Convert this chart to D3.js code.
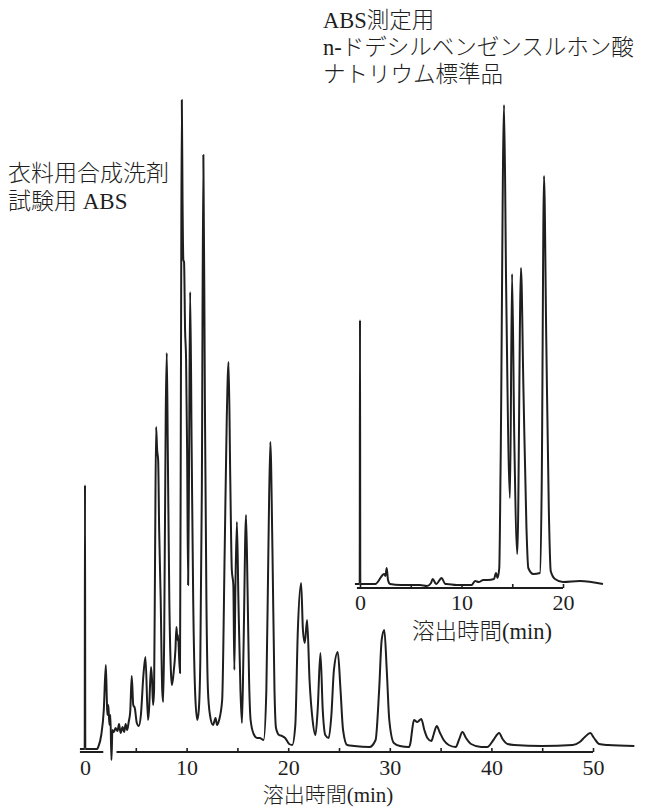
<!DOCTYPE html>
<html><head><meta charset="utf-8">
<script src="https://cdn.jsdelivr.net/npm/d3@7"></script>
<style>
html,body{margin:0;padding:0;background:#fff;}
svg{display:block;}
text{fill:#1e1e1e;font-family:"Liberation Serif","Noto Sans CJK JP",serif;}
.cjk{font-weight:300;}
</style></head>
<body>
<svg id="chart" width="650" height="809"></svg>
<script>
// ---- Main chromatogram (衣料用合成洗剤 試験用 ABS) ----
const mainTime = [-0.5,-0.03,0,0.03,0.6,1.2,1.3,1.6,1.85,2.05,2.15,2.2,2.3,2.4,2.5,2.6,2.7,2.85,3.0,3.2,3.35,3.5,3.7,3.85,4.0,4.15,4.3,4.45,4.6,4.75,4.9,5.1,5.3,5.5,5.75,5.95,6.2,6.3,6.5,6.6,6.7,6.8,6.9,7.0,7.1,7.2,7.3,7.45,7.6,7.7,7.8,7.95,8.05,8.15,8.3,8.45,8.55,8.7,8.9,9.0,9.1,9.15,9.35,9.45,9.53,9.6,9.68,9.75,9.85,9.95,10.05,10.15,10.25,10.35,10.5,10.65,10.85,11.05,11.2,11.35,11.5,11.65,11.8,11.95,12.1,12.3,12.6,12.85,13.0,13.2,13.5,13.75,13.95,14.13,14.3,14.45,14.6,14.7,14.8,14.95,15.1,15.3,15.45,15.6,15.85,16.0,16.15,16.3,16.6,16.93,17.2,17.58,17.85,18.05,18.24,18.45,18.65,18.8,19.1,19.4,19.7,20.1,20.4,20.7,20.95,21.27,21.45,21.63,21.86,22.1,22.4,22.68,22.9,23.17,23.4,23.65,23.99,24.25,24.5,24.88,25.15,25.4,25.8,26.5,28.0,28.6,28.95,29.2,29.46,29.7,29.95,30.4,31.0,31.88,32.05,32.2,32.38,32.7,33.1,33.4,33.7,34.09,34.3,34.62,34.9,35.3,35.8,36.49,36.8,37.15,37.5,38.0,39.0,39.6,40.2,40.76,41.1,41.6,42.24,45.0,48.0,48.7,49.2,49.73,50.1,50.6,51.45,54.07];
const mainSignal = [1,1,265,1,1,1,3,15,40,85,50,35,45,25,35,-10,20,18,22,19,26,17,23,18,26,20,28,38,74,45,42,27,24,35,75,93,30,40,83,70,45,60,200,323,300,290,220,150,60,48,120,340,397,300,150,80,65,75,100,123,110,115,77,400,650,550,490,488,420,390,300,165,300,458,300,150,55,30,40,90,260,595,350,150,60,35,25,32,25,30,50,200,330,388,270,180,165,80,160,228,150,60,27,100,235,160,70,30,16,12,12,10,60,200,308,200,60,22,15,14,12,6,5,25,120,167,120,107,130,70,30,15,40,97,40,15,12,35,80,98,60,20,5,4,3,10,60,110,120,80,30,7,4,3,8,20,30,28,31,20,12,9,15,24,18,10,5,3,10,18,12,6,3,3,10,17,11,6,5,4,5,8,13,17,12,6,5,4];
const mainLabelTicks = [0,10,20,30,40,50];
const mainMinorTicks = [5,10,15,20,25,30,35,40,45,50];
const mainAxisSegments = [[-0.5,1.8],[3.1,50]];

// ---- Inset chromatogram (ABS測定用 n-ドデシルベンゼンスルホン酸ナトリウム標準品) ----
const insetTime = [-0.5,-0.03,0,0.03,1.5,2.39,2.5,2.63,2.76,2.96,4.0,5.5,5.91,6.6,7.0,7.16,7.5,8.05,8.4,8.54,9.5,10.5,11.0,11.33,11.7,12.15,12.6,13.2,13.4,13.55,13.72,13.85,14.19,14.4,14.78,14.98,15.2,15.5,15.86,16.1,16.4,16.58,17.07,17.73,17.9,18.13,18.35,18.6,18.79,19.21,20.0,21.67,23.94];
const insetSignal = [4,4,268,4,4,14,12,20,8,4,3,3,3,2,5,9,4,10,4,4,3,3,3,7,6,8,8,9,15,10,20,120,483,300,90,314,150,34,320,200,60,20,14,15,100,412,250,80,17,9,6,7,4];
const insetLabelTicks = [0,10,20];
const insetMinorTicks = [0,5,10,15,20];
const insetAxisSegments = [[-0.3,20]];

// ---- Texts ----
const axisTitle = "溶出時間(min)";
const mainSampleLabel = ["衣料用合成洗剤","試験用 ABS"];
const insetSampleLabel = ["ABS測定用","n-ドデシルベンゼンスルホン酸","ナトリウム標準品"];

const svg = d3.select("#chart");
const ink = "#1e1e1e";

function drawChrom(cfg){
  const x = d3.scaleLinear().domain(cfg.xDomain).range(cfg.xRange);
  const y = d3.scaleLinear().domain(cfg.yDomain).range(cfg.yRange);
  const g = svg.append("g");
  const pts = cfg.time.map((t,i)=>[t,cfg.signal[i]]);
  g.selectAll("line.seg").data(cfg.segments).join("line")
    .attr("x1",d=>x(d[0])).attr("x2",d=>x(d[1]))
    .attr("y1",cfg.axisY).attr("y2",cfg.axisY)
    .attr("stroke",ink).attr("stroke-width",2);
  const tickAxis = d3.axisBottom(x).tickValues(cfg.minor).tickSizeInner(-4).tickSizeOuter(0).tickFormat("");
  const ta = g.append("g").attr("transform",`translate(0,${cfg.axisY})`).call(tickAxis);
  ta.select(".domain").remove();
  ta.selectAll("line").attr("stroke",ink).attr("stroke-width",1.6);
  const labAxis = d3.axisBottom(x).tickValues(cfg.labels).tickSize(0).tickPadding(cfg.pad).tickFormat(d3.format("d"));
  const la = g.append("g").attr("transform",`translate(0,${cfg.axisY})`).call(labAxis);
  la.select(".domain").remove();
  la.selectAll("text").attr("font-family",'"Liberation Serif",serif').attr("font-size",cfg.digitFs).attr("fill",ink);
  const line = d3.line().x(d=>x(d[0])).y(d=>y(d[1])).curve(d3.curveMonotoneX);
  g.append("path").datum(pts).attr("d",line).attr("fill","none")
    .attr("stroke",ink).attr("stroke-width",2).attr("stroke-linejoin","round");
  g.append("text").attr("class","cjk").attr("x",cfg.titleX).attr("y",cfg.titleY)
    .attr("text-anchor","middle").attr("font-size",cfg.fs).text(axisTitle);
  return {x,y};
}

drawChrom({time:mainTime,signal:mainSignal,xDomain:[0,50],xRange:[85,593],yDomain:[0,650],yRange:[750,100],
  axisY:752,segments:mainAxisSegments,minor:mainMinorTicks,labels:mainLabelTicks,pad:7,digitFs:22,fs:21,titleX:328,titleY:802});
drawChrom({time:insetTime,signal:insetSignal,xDomain:[0,20],xRange:[360,563],yDomain:[0,490],yRange:[588,98],
  axisY:588,segments:insetAxisSegments,minor:insetMinorTicks,labels:insetLabelTicks,pad:6,digitFs:22,fs:22.5,titleX:482,titleY:639});

svg.append("g").selectAll("text").data(mainSampleLabel).join("text").attr("class","cjk")
  .attr("x",8).attr("y",(d,i)=>181+i*28).attr("font-size",23).text(d=>d);
svg.append("g").selectAll("text").data(insetSampleLabel).join("text").attr("class","cjk")
  .attr("x",323).attr("y",(d,i)=>28+i*27).attr("font-size",22.5).text(d=>d);
</script>
</body></html>
